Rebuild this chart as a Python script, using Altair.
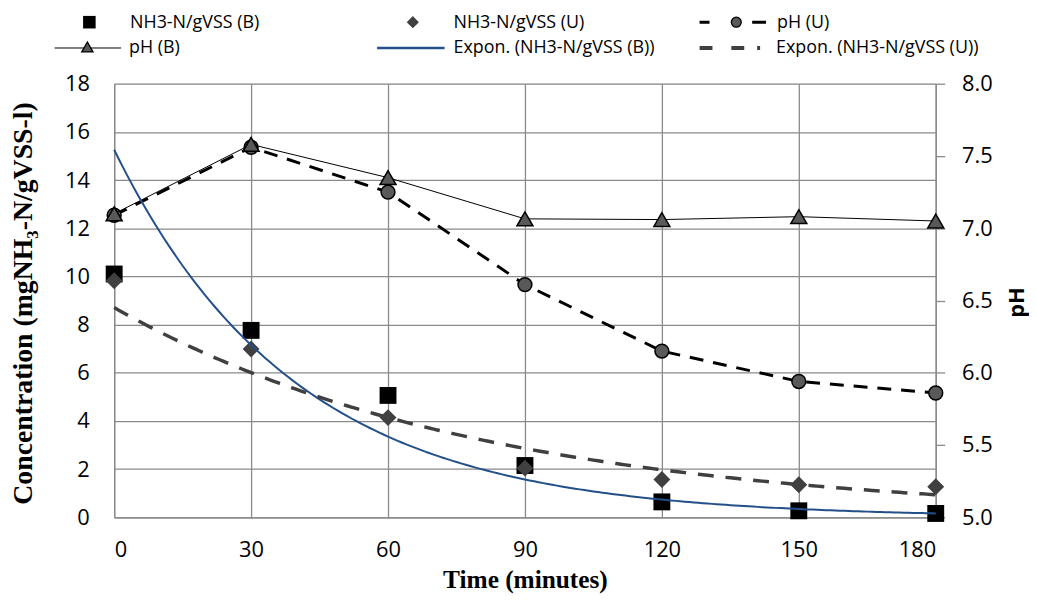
import altair as alt
import numpy as np
import pandas as pd

# ---------------- data ----------------
time_min = [0, 30, 60, 90, 120, 150, 180]
nh3_b = [10.1, 7.76, 5.06, 2.15, 0.64, 0.27, 0.16]
nh3_u = [9.82, 6.99, 4.14, 2.04, 1.57, 1.35, 1.27]
ph_u = [7.09, 7.56, 7.25, 6.61, 6.15, 5.94, 5.86]
ph_b = [7.10, 7.58, 7.35, 7.065, 7.06, 7.08, 7.05]

legend_labels = [
    "NH3-N/gVSS (B)", "NH3-N/gVSS (U)", "pH (U)",
    "pH (B)", "Expon. (NH3-N/gVSS (B))", "Expon. (NH3-N/gVSS (U))",
]
x_ticks = [0, 30, 60, 90, 120, 150, 180]
conc_ticks = [0, 2, 4, 6, 8, 10, 12, 14, 16, 18]
ph_ticks = [5.0, 5.5, 6.0, 6.5, 7.0, 7.5, 8.0]

x_title = "Time (minutes)"
y_title = "Concentration (mgNH\u2083-N/gVSS-l)"
y2_title = "pH"

df = pd.DataFrame({"t": time_min, "nb": nh3_b, "nu": nh3_u, "pu": ph_u, "pb": ph_b})


# Exponential trendlines as Excel fits them: least squares on ln(y)
def exp_fit(t, y):
    b, lna = np.polyfit(np.array(t, float), np.log(np.array(y, float)), 1)
    return np.exp(lna), b


tt = np.linspace(0, 180, 181)
ab, bb = exp_fit(time_min, nh3_b)
au, bu = exp_fit(time_min, nh3_u)
trend = pd.DataFrame({"t": tt, "tb": ab * np.exp(bb * tt), "tu": au * np.exp(bu * tt)})

# ---------------- styling ----------------
GRID = "#8a8a8a"
LABEL_FONT = "Open Sans"
SERIF = "Liberation Serif"

x_axis = alt.Axis(
    values=x_ticks, grid=True, gridColor=GRID, gridWidth=1.3,
    domainColor=GRID, domainWidth=1.3, ticks=False,
    labelFont=LABEL_FONT, labelFontSize=22, labelColor="black", labelPadding=23,
    title=x_title, titleFont=SERIF, titleFontSize=25.5, titleFontWeight="bold",
    titleColor="black", titleY=63, titleBaseline="middle",
)
X = alt.X("t:Q", scale=alt.Scale(domain=[0, 180], nice=False, zero=False), axis=x_axis)

left_scale = alt.Scale(domain=[0, 18], nice=False, zero=False)
right_scale = alt.Scale(domain=[5, 8], nice=False, zero=False)

left_axis = alt.Axis(
    values=conc_ticks, grid=True, gridColor=GRID, gridWidth=1.3,
    domainColor=GRID, domainWidth=1.3, ticks=False,
    labelFont=LABEL_FONT, labelFontSize=22, labelColor="black", labelPadding=25,
    title=y_title, titleFont=SERIF, titleFontSize=28, titleFontWeight="bold",
    titleColor="black", titleAngle=270, titleX=-91, titleY=221, titleBaseline="middle",
    titleAlign="center",
)
right_axis = alt.Axis(
    orient="right", values=ph_ticks, format=".1f", grid=False,
    domainColor=GRID, domainWidth=1.3, ticks=True, tickColor=GRID, tickWidth=1.3,
    tickSize=9, labelFont=LABEL_FONT, labelFontSize=22, labelColor="black",
    labelPadding=17, title=y2_title, titleFont=LABEL_FONT, titleFontSize=22,
    titleFontWeight="bold", titleColor="black", titleAngle=270, titleX=81, titleY=220,
    titleBaseline="middle", titleAlign="center",
)

base = alt.Chart(df)

sq = base.mark_point(shape="square", filled=True, size=290, color="black", opacity=1).encode(
    x=X, y=alt.Y("nb:Q", scale=left_scale, axis=left_axis))
dia = base.mark_point(shape="diamond", filled=True, size=290, color="#404040", opacity=1).encode(
    x=X, y=alt.Y("nu:Q", scale=left_scale, axis=None))

pu_line = base.mark_line(color="black", strokeWidth=3, strokeDash=[14, 10]).encode(
    x=X, y=alt.Y("pu:Q", scale=right_scale, axis=right_axis))
pu_pts = base.mark_point(shape="circle", filled=True, fill="#595959", stroke="black",
                         strokeWidth=1.5, size=196, opacity=1).encode(
    x=X, y=alt.Y("pu:Q", scale=right_scale, axis=None))
pb_line = base.mark_line(color="black", strokeWidth=1).encode(
    x=X, y=alt.Y("pb:Q", scale=right_scale, axis=None))
pb_pts = base.mark_point(shape="triangle-up", filled=True, fill="#595959", stroke="black",
                         strokeWidth=1.5, size=260, opacity=1).encode(
    x=X, y=alt.Y("pb:Q", scale=right_scale, axis=None))

tb_line = alt.Chart(trend).mark_line(color="#24508a", strokeWidth=2).encode(
    x=X, y=alt.Y("tb:Q", scale=left_scale, axis=None))
tu_line = alt.Chart(trend).mark_line(color="#404040", strokeWidth=3.5, strokeDash=[16, 12]).encode(
    x=X, y=alt.Y("tu:Q", scale=left_scale, axis=None))

# ---------------- legend (drawn above the plot area) ----------------
one = pd.DataFrame({"k": [0]})


def lg_text(label, x, y):
    return alt.Chart(one).mark_text(align="left", baseline="middle", font=LABEL_FONT,
                                    fontSize=18, color="black").encode(
        x=alt.value(x), y=alt.value(y), text=alt.value(label))


def lg_rule(x1, x2, y, color, width, dash=None):
    kw = dict(color=color, strokeWidth=width)
    if dash is not None:
        kw["strokeDash"] = dash
    return alt.Chart(one).mark_rule(**kw).encode(x=alt.value(x1), x2=alt.value(x2), y=alt.value(y))


def lg_point(x, y, shape, size, fill, stroke=None):
    kw = dict(shape=shape, filled=True, fill=fill, size=size, opacity=1)
    if stroke is not None:
        kw["stroke"] = stroke
        kw["strokeWidth"] = 1.3
    return alt.Chart(one).mark_point(**kw).encode(x=alt.value(x), y=alt.value(y))


R1, R2 = -61.5, -36
legend = [
    lg_point(-25, R1 - 0.5, "square", 160, "black"),
    lg_text(legend_labels[0], 16, R1),
    lg_point(301, R1 - 0.5, "diamond", 150, "#404040"),
    lg_text(legend_labels[1], 342, R1),
    lg_rule(590, 657, R1 - 0.5, "black", 3, [10, 43, 14]),
    lg_point(627, R1 - 0.5, "circle", 100, "#595959", "black"),
    lg_text(legend_labels[2], 668, R1),
    lg_rule(-60, 7, R2, "black", 1),
    lg_point(-27, R2 - 1, "triangle-up", 130, "#595959", "black"),
    lg_text(legend_labels[3], 15, R2),
    lg_rule(265, 333, R2, "#24508a", 2.5),
    lg_text(legend_labels[4], 342, R2),
    lg_rule(590, 651, R2, "#404040", 4, [13, 19, 13, 13, 3]),
    lg_text(legend_labels[5], 667, R2),
]

chart = alt.layer(
    sq, dia, pu_line, pu_pts, pb_line, pb_pts, tb_line, tu_line, *legend
).resolve_scale(y="independent").properties(
    width=828, height=437,
    autosize=alt.AutoSizeParams(type="none"),
    padding={"left": 107, "top": 74, "right": 94, "bottom": 76},
).configure_view(stroke=None).configure(background="white")

chart.save("out.html", embed_options={"renderer": "svg", "actions": False})
